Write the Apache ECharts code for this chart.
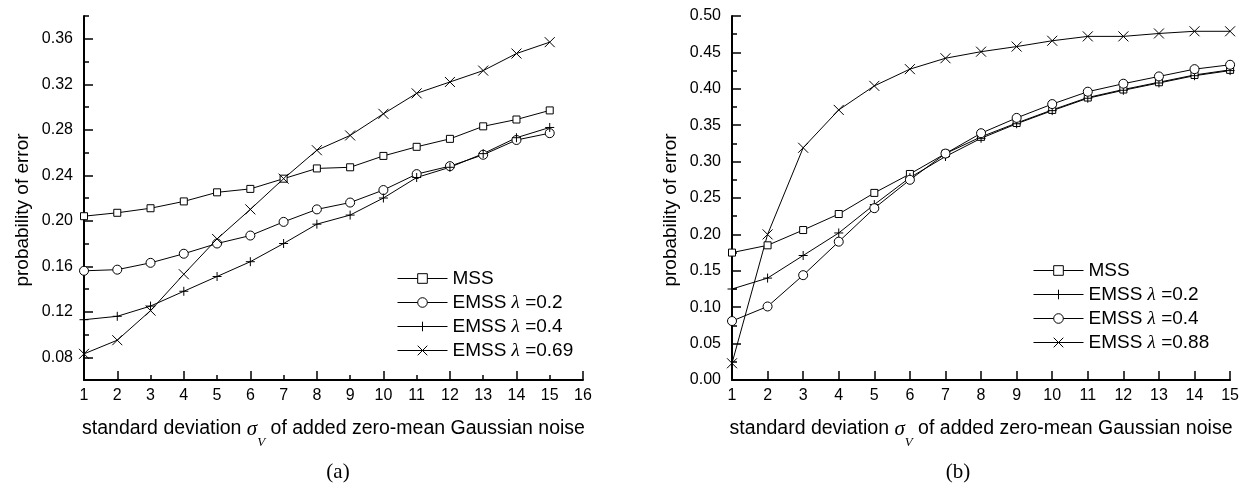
<!DOCTYPE html>
<html><head><meta charset="utf-8">
<script src="https://cdn.jsdelivr.net/npm/echarts@6/dist/echarts.min.js"></script>
<style>html,body{margin:0;padding:0;background:#fff}#c{width:1242px;height:488px}</style>
</head><body><div id="c"></div>
<script>
// ---------- data ----------
const xL = [1,2,3,4,5,6,7,8,9,10,11,12,13,14,15];
const mssL   = [0.204,0.207,0.211,0.217,0.225,0.228,0.237,0.246,0.247,0.257,0.265,0.272,0.283,0.289,0.297];
const emss02L = [0.156,0.157,0.163,0.171,0.180,0.187,0.199,0.210,0.216,0.227,0.241,0.248,0.258,0.271,0.277];
const emss04L = [0.113,0.116,0.125,0.138,0.151,0.164,0.180,0.197,0.205,0.220,0.238,0.247,0.259,0.273,0.282];
const emss069L = [0.083,0.095,0.121,0.153,0.184,0.210,0.237,0.262,0.275,0.294,0.312,0.322,0.332,0.347,0.357];
const namesL = ['MSS','EMSS λ =0.2','EMSS λ =0.4','EMSS λ =0.69'];
const xTicksL = [1,2,3,4,5,6,7,8,9,10,11,12,13,14,15,16];
const xMajorTicksL = [2,4,6,8,10,12,14,16];
const yLabelsL = [0.08,0.12,0.16,0.20,0.24,0.28,0.32,0.36];

const xR = [1,2,3,4,5,6,7,8,9,10,11,12,13,14,15];
const mssR    = [0.175,0.185,0.206,0.228,0.257,0.283,0.311,0.334,0.353,0.371,0.388,0.399,0.409,0.419,0.426];
const emss02R = [0.125,0.140,0.171,0.202,0.241,0.278,0.307,0.332,0.352,0.370,0.387,0.398,0.408,0.418,0.425];
const emss04R = [0.081,0.101,0.144,0.190,0.236,0.275,0.311,0.339,0.360,0.379,0.396,0.407,0.417,0.427,0.433];
const emss088R = [0.023,0.200,0.319,0.371,0.404,0.427,0.442,0.451,0.458,0.466,0.472,0.472,0.476,0.479,0.479];
const namesR = ['MSS','EMSS λ =0.2','EMSS λ =0.4','EMSS λ =0.88'];
const yLabelsR = [0,0.05,0.10,0.15,0.20,0.25,0.30,0.35,0.40,0.45,0.50];

const xTitle = 'standard deviation {s|σ}{v|V} of added zero-mean Gaussian noise';
const yTitle = 'probability of error';
const panelLabels = ['(a)','(b)'];

// ---------- styling ----------
const SANS = '"Liberation Sans", Arial, sans-serif';
const SERIF = '"Liberation Serif", "Times New Roman", serif';
const SQ = 'path://M0,0H10V10H0Z';
const CI = 'path://M0,5A5,5,0,1,1,10,5A5,5,0,1,1,0,5Z';
const PL = 'path://M0,5H10M5,0V10';
const CR = 'path://M0,0L10,10M10,0L0,10';

const grids = [
  {left:84, top:16, width:499, height:364},
  {left:732, top:16, width:499, height:364}
];

function mk(id, xs, ys, sym, size, g) {
  return {
    type:'line', name:id, xAxisIndex: g===0?0:2, yAxisIndex: g===0?0:2,
    data: xs.map((x,i)=>[x, ys[i]]),
    symbol: sym, symbolSize: size, showAllSymbol:true,
    lineStyle:{color:'#000', width:1},
    itemStyle:{color:'#fff', borderColor:'#000', borderWidth:1},
    emphasis:{disabled:true}, silent:true
  };
}
const labelMap = {};
['a0','a1','a2','a3'].forEach((k,i)=>labelMap[k]=namesL[i]);
['b0','b1','b2','b3'].forEach((k,i)=>labelMap[k]=namesR[i]);

const axLine = {show:true, lineStyle:{color:'#000', width:2}};
const lblStyle = {color:'#000', fontSize:16, fontFamily:SANS};
const nameX = {
  color:'#000', fontSize:19.5, fontFamily:SANS, lineHeight:40,
  rich:{
    s:{fontSize:21, fontStyle:'italic', fontFamily:SERIF, color:'#000', lineHeight:40},
    v:{fontSize:13, fontStyle:'italic', fontFamily:SERIF, color:'#000', lineHeight:12, verticalAlign:'bottom'}
  }
};
const nameY = {color:'#000', fontSize:19, fontFamily:SANS, padding:[0,24,0,0]};

function xMain(g, max) {
  return {
    gridIndex:g, type:'value', min:1, max:max, interval:1,
    axisLine:axLine,
    axisTick:{show:true, inside:true, length: g===0?5:9, lineStyle:{color:'#000', width:1.5}},
    axisLabel:Object.assign({margin:8, formatter: v=>String(v)}, lblStyle),
    splitLine:{show:false},
    name:xTitle, nameLocation:'middle', nameGap:29, nameTextStyle:nameX
  };
}
const xAxes = [
  xMain(0, 16),
  {gridIndex:0, type:'value', min:1, max:16, position:'bottom',
   axisLine:{show:false}, splitLine:{show:false},
   axisTick:{show:true, inside:true, length:9, customValues:xMajorTicksL, lineStyle:{color:'#000', width:1.5}},
   axisLabel:{show:false}},
  xMain(1, 15)
];
const yAxes = [
  {gridIndex:0, type:'value', min:0.06, max:0.38, interval:0.02, position:'left',
   axisLine:axLine, splitLine:{show:false},
   axisTick:{show:true, inside:true, length:5, lineStyle:{color:'#000', width:1.5}},
   axisLabel:{show:false},
   name:yTitle, nameLocation:'middle', nameGap:52, nameTextStyle:nameY},
  {gridIndex:0, type:'value', min:0.06, max:0.38, position:'left',
   axisLine:{show:false}, splitLine:{show:false},
   axisTick:{show:true, inside:true, length:9, customValues:yLabelsL, lineStyle:{color:'#000', width:1.5}},
   axisLabel:Object.assign({margin:11, customValues:yLabelsL, formatter:v=>v.toFixed(2)}, lblStyle)},
  {gridIndex:1, type:'value', min:0, max:0.5, interval:0.05, position:'left',
   axisLine:axLine, splitLine:{show:false},
   axisTick:{show:true, inside:true, length:9, lineStyle:{color:'#000', width:1.5}},
   minorTick:{show:true, splitNumber:2, length:5, lineStyle:{color:'#000', width:1.5}},
   minorSplitLine:{show:false},
   axisLabel:Object.assign({margin:11, formatter:v=>v.toFixed(2)}, lblStyle),
   name:yTitle, nameLocation:'middle', nameGap:52, nameTextStyle:nameY}
];

function legend(ids, left, top) {
  return {
    data: ids, orient:'vertical', left:left, top:top, padding:0,
    itemWidth:50, itemHeight:12, itemGap:5, selectedMode:false,
    itemStyle:{borderWidth:1, borderColor:'#000', color:'#fff'},
    lineStyle:{width:1, color:'#000'},
    formatter: n => labelMap[n].replace('λ','{l|λ}'),
    textStyle:{color:'#000', fontSize:19, fontFamily:SANS, lineHeight:14,
      rich:{l:{fontSize:19, fontStyle:'italic', fontFamily:SERIF, color:'#000', lineHeight:14}}}
  };
}

const option = {
  animation:false,
  backgroundColor:'#fff',
  grid: grids,
  xAxis: xAxes,
  yAxis: yAxes,
  legend: [legend(['a0','a1','a2','a3'], 397, 269), legend(['b0','b1','b2','b3'], 1033, 261)],
  series: [
    mk('a0', xL, mssL, SQ, 7, 0),
    mk('a1', xL, emss02L, CI, 9, 0),
    mk('a2', xL, emss04L, PL, 9, 0),
    mk('a3', xL, emss069L, CR, 10, 0),
    mk('b0', xR, mssR, SQ, 7, 1),
    mk('b1', xR, emss02R, PL, 9, 1),
    mk('b2', xR, emss04R, CI, 9, 1),
    mk('b3', xR, emss088R, CR, 10, 1)
  ],
  graphic: [
    {type:'text', x:338, y:472, style:{text:panelLabels[0], font:'21px '+SERIF, fill:'#000', align:'center', verticalAlign:'middle'}},
    {type:'text', x:958, y:472, style:{text:panelLabels[1], font:'21px '+SERIF, fill:'#000', align:'center', verticalAlign:'middle'}}
  ]
};
const chart = echarts.init(document.getElementById('c'), null, {renderer:'canvas'});
chart.setOption(option);
</script>
</body></html>
